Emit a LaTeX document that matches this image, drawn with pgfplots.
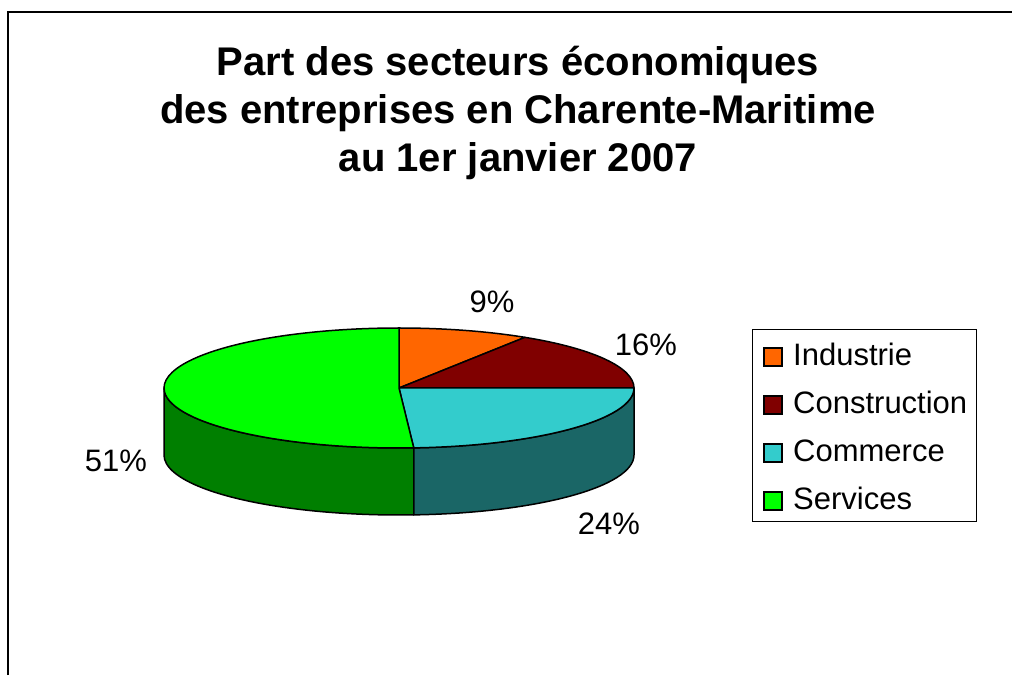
\documentclass[border=0pt]{standalone}
\usepackage{pgfplots}
\pgfplotsset{compat=1.18}
\usepackage{pgfplotstable}
\usepackage{fontspec}
\setmainfont{Liberation Sans}

\definecolor{industrie}{HTML}{FF6600}
\definecolor{construction}{HTML}{800000}
\definecolor{commerce}{HTML}{33CCCC}
\definecolor{services}{HTML}{00FF00}
\definecolor{commerceside}{HTML}{1A6666}
\definecolor{servicesside}{HTML}{007F00}

% part de chaque secteur (%)
\pgfplotstableread{
secteur part
Industrie 9
Construction 16
Commerce 24
Services 51
}\parts

\begin{document}
\begin{tikzpicture}
\begin{axis}[
    width=1012pt, height=675pt, scale only axis,
    xmin=0, xmax=1012, ymin=0, ymax=675,
    hide axis,
]
\path (axis cs:0,0) rectangle (axis cs:1012,675);

% angles cumules, dans le sens horaire depuis midi
\pgfplotstablegetelem{0}{part}\of\parts \pgfmathsetmacro\aA{90-3.6*\pgfplotsretval}
\pgfplotstablegetelem{1}{part}\of\parts \pgfmathsetmacro\aB{\aA-3.6*\pgfplotsretval}
\pgfplotstablegetelem{2}{part}\of\parts \pgfmathsetmacro\aC{\aB-3.6*\pgfplotsretval}
\pgfmathsetmacro\aCs{\aC+360}

% cadre
\draw[line width=2.5pt] (axis cs:8,0) -- (axis cs:8,663) -- (axis cs:1012,663);

% titre
\node[font=\fontsize{40}{48}\selectfont\bfseries, anchor=base] at (axis cs:518,599) {Part des secteurs économiques};
\node[font=\fontsize{40}{48}\selectfont\bfseries, anchor=base] at (axis cs:518,551) {des entreprises en Charente-Maritime};
\node[font=\fontsize{40}{48}\selectfont\bfseries, anchor=base] at (axis cs:518,503) {au 1er janvier 2007};

% faces laterales
\begin{scope}[draw=black, line width=1.5pt, line join=round]
\filldraw[fill=servicesside] (axis cs:399,287) ++(180:235pt and 60pt)
    arc[start angle=180, end angle=\aCs, x radius=235pt, y radius=60pt]
    -- ++(0,-67pt)
    arc[start angle=\aCs, end angle=180, x radius=235pt, y radius=60pt] -- cycle;
\filldraw[fill=commerceside] (axis cs:399,287) ++(\aCs:235pt and 60pt)
    arc[start angle=\aCs, end angle=360, x radius=235pt, y radius=60pt]
    -- ++(0,-67pt)
    arc[start angle=360, end angle=\aCs, x radius=235pt, y radius=60pt] -- cycle;

% dessus
\filldraw[fill=industrie] (axis cs:399,287) -- +(90:235pt and 60pt)
    arc[start angle=90, end angle=\aA, x radius=235pt, y radius=60pt] -- cycle;
\filldraw[fill=construction] (axis cs:399,287) -- +(\aA:235pt and 60pt)
    arc[start angle=\aA, end angle=\aB, x radius=235pt, y radius=60pt] -- cycle;
\filldraw[fill=commerce] (axis cs:399,287) -- +(\aB:235pt and 60pt)
    arc[start angle=\aB, end angle=\aC, x radius=235pt, y radius=60pt] -- cycle;
\filldraw[fill=services] (axis cs:399,287) -- +(\aC:235pt and 60pt)
    arc[start angle=\aC, end angle=-270, x radius=235pt, y radius=60pt] -- cycle;
\end{scope}

% etiquettes
\begin{scope}[font=\fontsize{31}{36}\selectfont]
\node[anchor=base] at (axis cs:492,362) {9\%};
\node[anchor=base] at (axis cs:646,319) {16\%};
\node[anchor=base] at (axis cs:609,140) {24\%};
\node[anchor=base] at (axis cs:116,203) {51\%};

% legende
\draw[line width=1pt] (axis cs:752,345) rectangle (axis cs:976,153);
\filldraw[fill=industrie, line width=1.5pt] (axis cs:764,309) rectangle (axis cs:782,327);
\node[anchor=base west, inner sep=0pt] at (axis cs:793,309) {Industrie};
\filldraw[fill=construction, line width=1.5pt] (axis cs:764,261) rectangle (axis cs:782,279);
\node[anchor=base west, inner sep=0pt] at (axis cs:793,261) {Construction};
\filldraw[fill=commerce, line width=1.5pt] (axis cs:764,213) rectangle (axis cs:782,231);
\node[anchor=base west, inner sep=0pt] at (axis cs:793,213) {Commerce};
\filldraw[fill=services, line width=1.5pt] (axis cs:764,165) rectangle (axis cs:782,183);
\node[anchor=base west, inner sep=0pt] at (axis cs:793,165) {Services};
\end{scope}
\end{axis}
\end{tikzpicture}
\end{document}
